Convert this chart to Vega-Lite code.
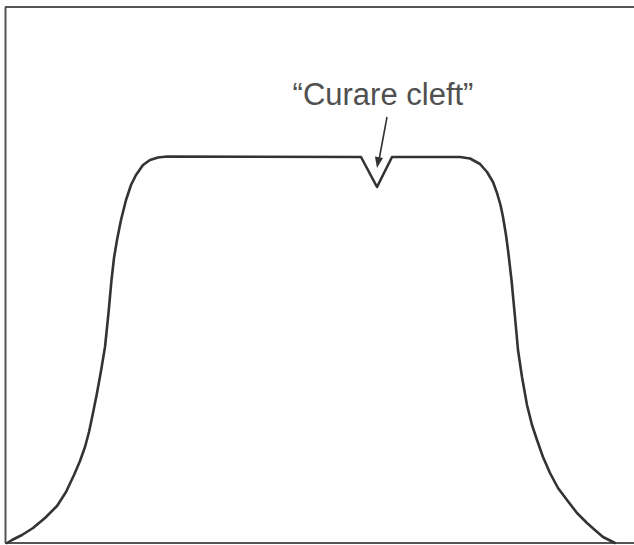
{
  "$schema": "https://vega.github.io/schema/vega-lite/v6.json",
  "width": 634,
  "height": 545,
  "padding": 0,
  "autosize": {"type": "none"},
  "background": "#ffffff",
  "config": {"view": {"stroke": null}},
  "datasets": {
    "curve": [
      {"t": 7, "v": 2}, {"t": 12, "v": 5}, {"t": 22, "v": 10}, {"t": 33, "v": 17},
      {"t": 45, "v": 27}, {"t": 57, "v": 39}, {"t": 66, "v": 53}, {"t": 74, "v": 70},
      {"t": 80, "v": 84}, {"t": 85, "v": 98}, {"t": 89, "v": 113}, {"t": 93, "v": 132},
      {"t": 97, "v": 152}, {"t": 101, "v": 174}, {"t": 105, "v": 198}, {"t": 108.5, "v": 232},
      {"t": 111.5, "v": 265}, {"t": 114, "v": 287}, {"t": 117, "v": 305}, {"t": 121, "v": 325},
      {"t": 126, "v": 345}, {"t": 131, "v": 360}, {"t": 136, "v": 370}, {"t": 143, "v": 380},
      {"t": 150, "v": 385}, {"t": 158, "v": 387.5}, {"t": 167, "v": 388.5}, {"t": 361, "v": 388},
      {"t": 377, "v": 358}, {"t": 392, "v": 388}, {"t": 460, "v": 388}, {"t": 470, "v": 386.5},
      {"t": 480, "v": 381}, {"t": 487, "v": 373}, {"t": 493, "v": 363}, {"t": 497, "v": 352},
      {"t": 500.5, "v": 340}, {"t": 503, "v": 328}, {"t": 506, "v": 310}, {"t": 508, "v": 295},
      {"t": 511.5, "v": 265}, {"t": 515, "v": 228}, {"t": 518, "v": 195}, {"t": 522, "v": 168},
      {"t": 527, "v": 140}, {"t": 532, "v": 120}, {"t": 537, "v": 105}, {"t": 543, "v": 88},
      {"t": 550, "v": 72}, {"t": 558, "v": 57}, {"t": 567, "v": 45}, {"t": 577, "v": 32},
      {"t": 587, "v": 22}, {"t": 596, "v": 14}, {"t": 603, "v": 8}, {"t": 615, "v": 2}
    ],
    "frame": [
      {"x1": 5.5, "x2": 5.5, "y1": 2, "y2": 538},
      {"x1": 5, "x2": 634, "y1": 538, "y2": 538},
      {"x1": 5, "x2": 634, "y1": 2, "y2": 2}
    ],
    "arrow": [{"x1": 387, "y1": 428, "x2": 379, "y2": 385}],
    "head": [{"x": 378, "y": 382.4}],
    "label": [{"x": 383, "y": 440, "text": "“Curare cleft”"}]
  },
  "layer": [
    {
      "data": {"name": "frame"},
      "mark": {"type": "rule", "stroke": "#555555", "strokeWidth": 2},
      "encoding": {
        "x": {"field": "x1", "type": "quantitative", "scale": {"domain": [0, 634]}, "axis": null},
        "x2": {"field": "x2"},
        "y": {"field": "y1", "type": "quantitative", "scale": {"domain": [0, 545]}, "axis": null},
        "y2": {"field": "y2"}
      }
    },
    {
      "data": {"name": "curve"},
      "mark": {"type": "line", "stroke": "#333333", "strokeWidth": 2.6, "strokeJoin": "round", "strokeCap": "round"},
      "encoding": {
        "x": {"field": "t", "type": "quantitative", "scale": {"domain": [0, 634]}, "axis": null},
        "y": {"field": "v", "type": "quantitative", "scale": {"domain": [0, 545]}, "axis": null},
        "order": {"field": "t", "type": "quantitative"}
      }
    },
    {
      "data": {"name": "arrow"},
      "mark": {"type": "rule", "stroke": "#333333", "strokeWidth": 1.6},
      "encoding": {
        "x": {"field": "x1", "type": "quantitative", "scale": {"domain": [0, 634]}, "axis": null},
        "x2": {"field": "x2"},
        "y": {"field": "y1", "type": "quantitative", "scale": {"domain": [0, 545]}, "axis": null},
        "y2": {"field": "y2"}
      }
    },
    {
      "data": {"name": "head"},
      "mark": {"type": "point", "shape": "M-0.75,-1L0.75,-1L0,1Z", "filled": true, "fill": "#333333", "opacity": 1, "size": 121, "angle": 10.5, "strokeWidth": 0},
      "encoding": {
        "x": {"field": "x", "type": "quantitative", "scale": {"domain": [0, 634]}, "axis": null},
        "y": {"field": "y", "type": "quantitative", "scale": {"domain": [0, 545]}, "axis": null}
      }
    },
    {
      "data": {"name": "label"},
      "mark": {"type": "text", "font": "Liberation Sans", "fontSize": 31, "fill": "#505050", "align": "center", "baseline": "alphabetic"},
      "encoding": {
        "x": {"field": "x", "type": "quantitative", "scale": {"domain": [0, 634]}, "axis": null},
        "y": {"field": "y", "type": "quantitative", "scale": {"domain": [0, 545]}, "axis": null},
        "text": {"field": "text"}
      }
    }
  ]
}
